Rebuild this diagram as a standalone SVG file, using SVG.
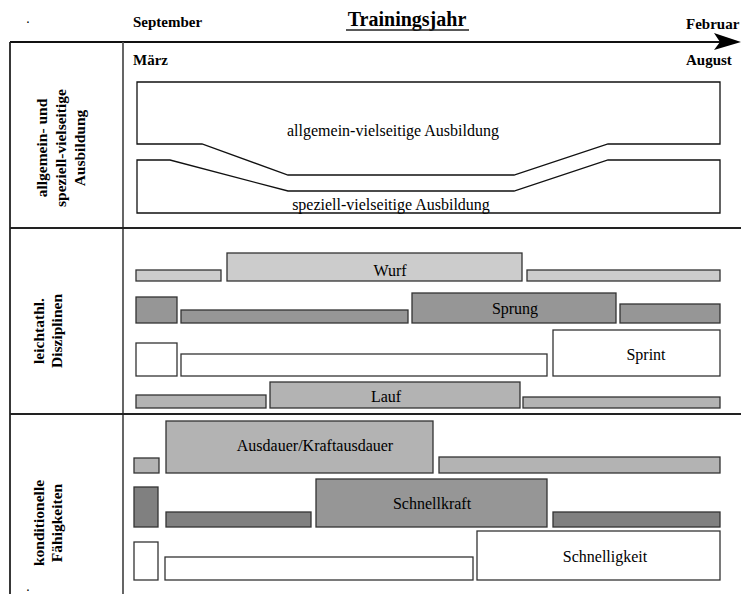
<svg xmlns="http://www.w3.org/2000/svg" width="741" height="594" viewBox="0 0 741 594">
<style>
text{font-family:"Liberation Serif","Times New Roman",serif;fill:#000}
.b{font-weight:bold;font-size:15px}
.lab{font-weight:bold;font-size:15.5px;text-anchor:middle}
.t{font-size:16px;text-anchor:middle}
.bar{stroke:#333;stroke-width:1.3}
.g1{fill:#cccccc}.g2{fill:#969696}.g3{fill:#b3b3b3}.g4{fill:#808080}.w{fill:#fff}
.grid{stroke:#222;stroke-width:1.8;fill:none}
.shape{fill:#fff;stroke:#111;stroke-width:1.3}
</style>
<rect width="741" height="594" fill="#fff"/>
<g id="header">
<text x="26" y="23" style="font-size:14px;font-family:'Liberation Sans',sans-serif">.</text>
<text x="133" y="27" class="b">September</text>
<text x="407" y="26" style="font-weight:bold;font-size:20px;text-anchor:middle">Trainingsjahr</text>
<line x1="346" y1="30" x2="469" y2="30" stroke="#222" stroke-width="1.5"/>
<text x="686" y="29" class="b">Februar</text>
<text x="133" y="65" class="b">März</text>
<text x="686" y="65" class="b">August</text>
</g>
<g id="connectors">
<line x1="10" y1="42" x2="722" y2="42" stroke="#111" stroke-width="2"/>
<path d="M741,42 L714,33 L720,42 L714,50 Z" fill="#000"/>
<line x1="10" y1="42" x2="10" y2="594" class="grid"/>
<line x1="123" y1="42" x2="123" y2="594" stroke="#555" stroke-width="1.8"/>
<line x1="10" y1="228" x2="741" y2="228" class="grid"/>
<line x1="10" y1="414" x2="741" y2="414" class="grid"/>
</g>
<g id="section1">
<text class="lab" transform="translate(0,148) rotate(-90)"><tspan x="0" y="47">allgemein- und</tspan><tspan x="0" y="66">speziell-vielseitige</tspan><tspan x="0" y="85">Ausbildung</tspan></text>
<g id="allgemein">
<path class="shape" d="M137,82 L720,82 L720,144 L608,144 L514,175 L288,175 L202,144 L137,144 Z"/>
<text x="393" y="136" class="t">allgemein-vielseitige Ausbildung</text>
</g>
<g id="speziell">
<path class="shape" d="M137,160 L170,160 L288,191 L514,191 L608,160 L720,160 L720,213 L137,213 Z"/>
<text x="391" y="210" class="t">speziell-vielseitige Ausbildung</text>
</g>
</g>
<g id="section2">
<text class="lab" transform="translate(0,331) rotate(-90)"><tspan x="0" y="44">leichtathl.</tspan><tspan x="0" y="62">Disziplinen</tspan></text>
<g id="wurf">
<rect class="bar g1" x="136" y="270" width="85" height="11"/>
<rect class="bar g1" x="227" y="253" width="295" height="28"/>
<rect class="bar g1" x="527" y="270" width="193" height="11"/>
<text x="390" y="276" class="t">Wurf</text>
</g>
<g id="sprung">
<rect class="bar g2" x="136" y="297" width="41" height="26"/>
<rect class="bar g2" x="181" y="310" width="227" height="13"/>
<rect class="bar g2" x="412" y="293" width="204" height="30"/>
<rect class="bar g2" x="620" y="304" width="100" height="19"/>
<text x="515" y="314" class="t">Sprung</text>
</g>
<g id="sprint">
<rect class="bar w" x="136" y="343" width="41" height="33"/>
<rect class="bar w" x="181" y="354" width="366" height="22"/>
<rect class="bar w" x="553" y="330" width="167" height="46"/>
<text x="646" y="360" class="t">Sprint</text>
</g>
<g id="lauf">
<rect class="bar g3" x="136" y="395" width="130" height="13"/>
<rect class="bar g3" x="270" y="382" width="250" height="26"/>
<rect class="bar g3" x="523" y="397" width="197" height="11"/>
<text x="386" y="402" class="t">Lauf</text>
</g>
</g>
<g id="section3">
<text class="lab" transform="translate(0,523) rotate(-90)"><tspan x="0" y="44">konditionelle</tspan><tspan x="0" y="62">Fähigkeiten</tspan></text>
<g id="ausdauer">
<rect class="bar g3" x="134" y="458" width="25" height="15"/>
<rect class="bar g3" x="166" y="421" width="267" height="52"/>
<rect class="bar g3" x="439" y="457" width="281" height="16"/>
<text x="315" y="451" class="t">Ausdauer/Kraftausdauer</text>
</g>
<g id="schnellkraft">
<rect class="bar g4" x="134" y="487" width="24" height="40"/>
<rect class="bar g4" x="166" y="512" width="145" height="15"/>
<rect class="bar g2" x="316" y="479" width="231" height="48"/>
<rect class="bar g4" x="553" y="512" width="167" height="15"/>
<text x="432" y="509" class="t">Schnellkraft</text>
</g>
<g id="schnelligkeit">
<rect class="bar w" x="134" y="542" width="24" height="38"/>
<rect class="bar w" x="165" y="557" width="308" height="23"/>
<rect class="bar w" x="477" y="531" width="243" height="49"/>
<text x="605" y="562" class="t">Schnelligkeit</text>
</g>
<text x="26" y="591" style="font-size:14px;font-family:'Liberation Sans',sans-serif">.</text>
</g>
</svg>
